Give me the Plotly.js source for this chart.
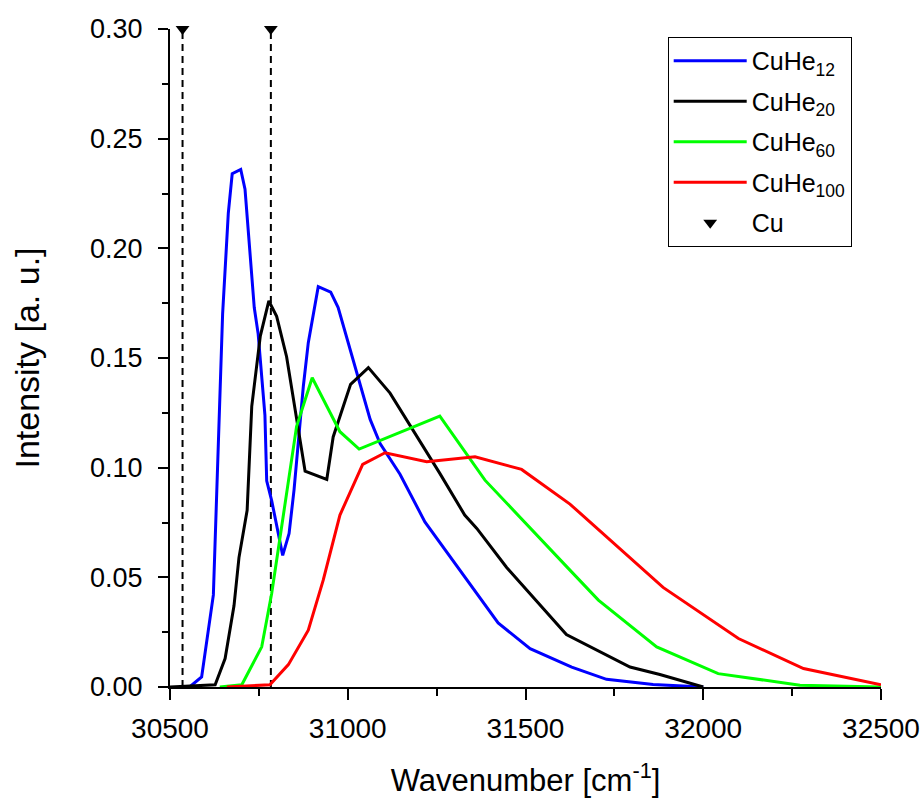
<!DOCTYPE html>
<html>
<head>
<meta charset="utf-8">
<script src="https://cdn.plot.ly/plotly-3.0.1.min.js"></script>
<style>html,body{margin:0;padding:0;background:#fff;}#chart{width:921px;height:798px;}</style>
</head>
<body>
<div id="chart"></div>
<script>
// CuHe12
var he12X = [30555, 30589, 30622, 30648, 30664, 30675, 30699, 30711, 30737, 30748, 30767, 30772, 30786, 30817, 30835, 30849, 30875, 30889, 30917, 30952, 30973, 31063, 31091, 31147, 31217, 31423, 31513, 31630, 31728, 31859, 32000];
var he12Y = [0, 0.0046, 0.042, 0.170, 0.216, 0.234, 0.236, 0.227, 0.173, 0.161, 0.124, 0.094, 0.085, 0.060, 0.070, 0.090, 0.137, 0.157, 0.1825, 0.180, 0.173, 0.122, 0.111, 0.097, 0.0753, 0.0292, 0.0175, 0.0091, 0.0035, 0.0011, 0];
// CuHe20
var he20X = [30500, 30627, 30655, 30680, 30694, 30717, 30730, 30754, 30778, 30800, 30828, 30880, 30941, 30959, 31008, 31058, 31119, 31259, 31329, 31363, 31447, 31615, 31794, 31878, 32000];
var he20Y = [0, 0.001, 0.013, 0.037, 0.059, 0.0806, 0.128, 0.160, 0.176, 0.169, 0.1506, 0.0984, 0.0946, 0.114, 0.138, 0.1456, 0.134, 0.0974, 0.0784, 0.0723, 0.0545, 0.0239, 0.0091, 0.0057, 0];
// CuHe60
var he60X = [30640, 30702, 30758, 30786, 30856, 30900, 30978, 31032, 31259, 31386, 31625, 31705, 31869, 32042, 32272, 32500];
var he60Y = [0, 0.001, 0.0183, 0.0426, 0.1187, 0.141, 0.1164, 0.1085, 0.1235, 0.0943, 0.0533, 0.0396, 0.0183, 0.0061, 0.0008, 0];
// CuHe100
var he100X = [30660, 30781, 30833, 30889, 30931, 30978, 31042, 31105, 31222, 31358, 31489, 31625, 31887, 32099, 32282, 32500];
var he100Y = [0, 0.001, 0.0102, 0.0259, 0.0487, 0.0784, 0.1015, 0.1068, 0.1027, 0.105, 0.0992, 0.0834, 0.0454, 0.0221, 0.0084, 0.001];
// Cu atomic lines
var cuX = [30535.3, 30783.7];
var cuMarkY = [0.30, 0.30];

var seriesNames = ['CuHe<sub>12</sub>', 'CuHe<sub>20</sub>', 'CuHe<sub>60</sub>', 'CuHe<sub>100</sub>', 'Cu'];
var xTicks = [30500, 31000, 31500, 32000, 32500];
var yTicks = [0, 0.05, 0.10, 0.15, 0.20, 0.25, 0.30];

var FONT = 'Liberation Sans, Arial, sans-serif';
var traces = [];
cuX.forEach(function (cx) {
  traces.push({x: [cx, cx], y: [0, cuMarkY[0]], mode: 'lines', showlegend: false, hoverinfo: 'skip',
    line: {color: '#000', width: 2, dash: '7px,5px'}});
});
var colors = ['#0000FF', '#000000', '#00FF00', '#FF0000'];
[[he12X, he12Y], [he20X, he20Y], [he60X, he60Y], [he100X, he100Y]].forEach(function (s, i) {
  traces.push({x: s[0], y: s[1], name: seriesNames[i], legendgroup: 'g' + i, mode: 'lines',
    line: {color: colors[i], width: 3}});
});
traces.push({x: cuX, y: cuMarkY, name: seriesNames[4], legendgroup: 'g4', mode: 'markers', cliponaxis: false,
  marker: {symbol: 'triangle-down', size: 12, color: '#000'}});

var layout = {
  width: 921, height: 798,
  margin: {l: 170, r: 40, t: 29, b: 111},
  paper_bgcolor: '#fff', plot_bgcolor: '#fff',
  font: {family: FONT, color: '#000'},
  showlegend: true,
  legend: {x: 0.700, y: 0.988, xanchor: 'left', yanchor: 'top', bordercolor: '#000', borderwidth: 1,
    bgcolor: '#fff', font: {family: FONT, size: 25, color: '#000'},
    itemwidth: 73, tracegroupgap: 5},
  xaxis: {
    range: [30500, 32500], tickvals: xTicks, ticktext: xTicks.map(String),
    showline: true, linecolor: '#000', linewidth: 2, zeroline: false, showgrid: false,
    ticks: 'outside', ticklen: 11, tickwidth: 2, tickcolor: '#000',
    ticklabelstandoff: 4,
    tickfont: {family: FONT, size: 28, color: '#000'},
    minor: {dtick: 250, tick0: 30500, ticks: 'outside', ticklen: 7, tickwidth: 2, tickcolor: '#000', showgrid: false},
    title: {text: 'Wavenumber [cm<sup>-1</sup>]', font: {family: FONT, size: 31, color: '#000'}, standoff: 32}
  },
  yaxis: {
    range: [0, 0.30], tickvals: yTicks, ticktext: yTicks.map(function (v) { return v.toFixed(2); }),
    showline: true, linecolor: '#000', linewidth: 2, zeroline: false, showgrid: false,
    ticks: 'outside', ticklen: 10, tickwidth: 2, tickcolor: '#000',
    ticklabelstandoff: 10,
    tickfont: {family: FONT, size: 27, color: '#000'},
    minor: {dtick: 0.025, tick0: 0, ticks: 'outside', ticklen: 6, tickwidth: 2, tickcolor: '#000', showgrid: false},
    title: {text: 'Intensity [a. u.]', font: {family: FONT, size: 34, color: '#000'}, standoff: 40}
  }
};

Plotly.newPlot('chart', traces, layout, {displayModeBar: false, staticPlot: true});
</script>
</body>
</html>
